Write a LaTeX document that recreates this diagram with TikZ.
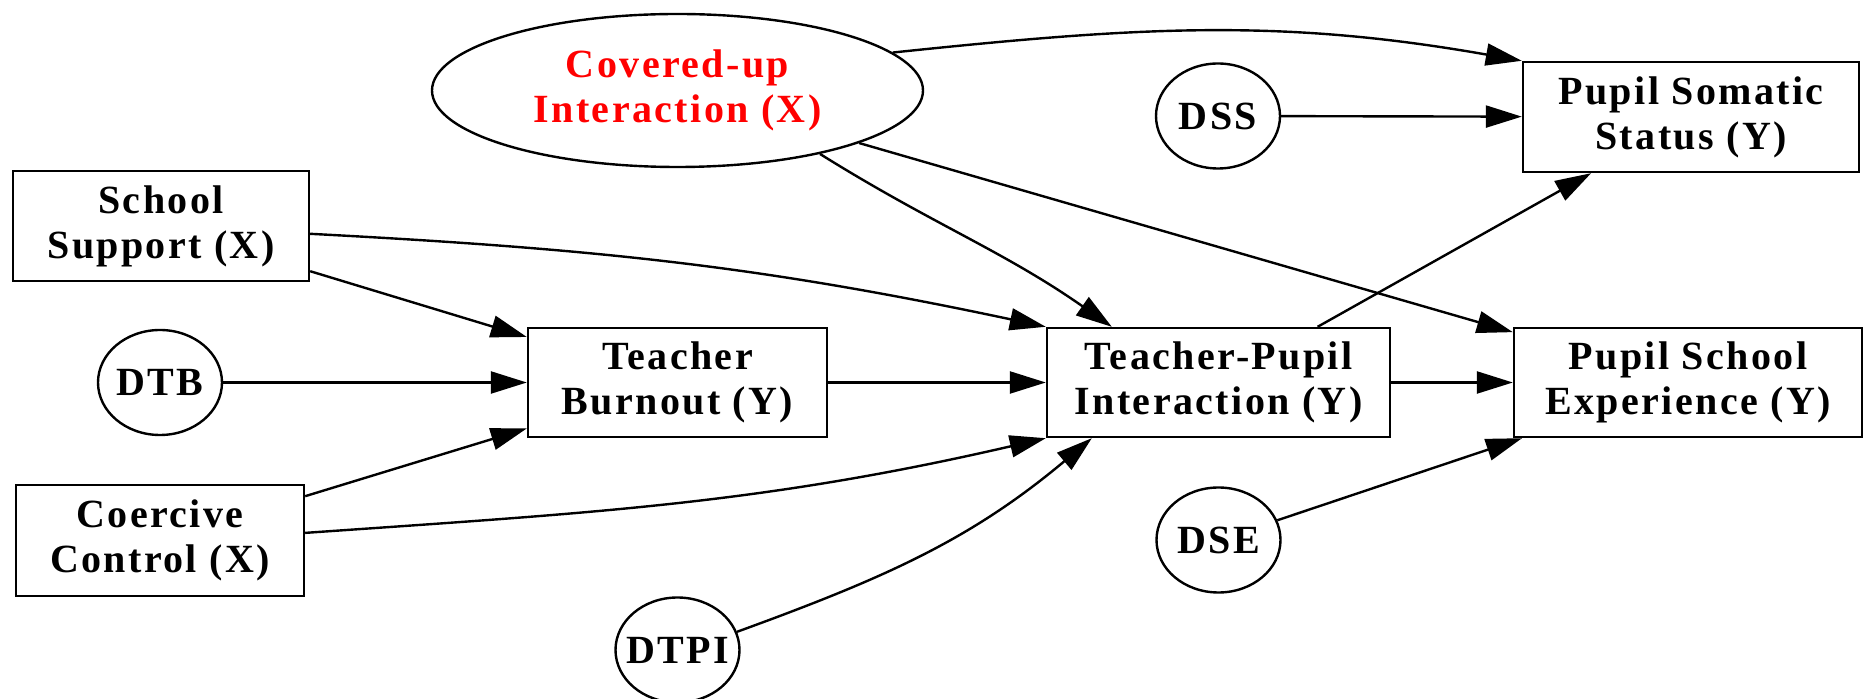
\documentclass[tikz,border=0pt]{standalone}
\usepackage{fontspec}
\newfontfamily\labelfont{Liberation Serif}[LetterSpace=6]
\usetikzlibrary{arrows.meta,shapes.geometric}

\begin{document}
\begin{tikzpicture}[x=0.5pt, y=-0.5pt,
  every node/.style={font=\labelfont\bfseries\fontsize{20}{22.5}\selectfont,
                     align=center, inner sep=0pt, line width=1.2pt},
  varbox/.style={draw, rectangle},
  errnode/.style={draw, ellipse, inner xsep=-6pt,
                  minimum width=62pt, minimum height=52.5pt},
  link/.style={line width=1.2pt, -{Triangle[length=18pt, width=11pt]}}
]
\useasboundingbox (0,0) rectangle (1864,699);

% exogenous variables
\node[draw, ellipse, minimum width=245.5pt, minimum height=76.5pt, text=red]
  (CI) at (677.5,90.5) {Covered-up\\Interaction (X)};
\node[varbox, minimum width=148pt, minimum height=55pt]
  (SS) at (161,226) {School\\Support (X)};
\node[varbox, minimum width=144pt, minimum height=55.5pt]
  (CC) at (160,540.5) {Coercive\\Control (X)};

% outcome variables
\node[varbox, minimum width=149.5pt, minimum height=54.5pt]
  (TB) at (677.5,382.5) {Teacher\\Burnout (Y)};
\node[varbox, minimum width=171.5pt, minimum height=54.5pt]
  (TPI) at (1218.5,382.5) {Teacher-Pupil\\Interaction (Y)};
\node[varbox, minimum width=168pt, minimum height=55pt]
  (PSS) at (1691,117) {Pupil Somatic\\Status (Y)};
\node[varbox, minimum width=174pt, minimum height=54.5pt]
  (PSE) at (1688,382.5) {Pupil School\\Experience (Y)};

% disturbance terms
\node[errnode] (DTB)  at (160,382.5)  {DTB};
\node[errnode] (DSS)  at (1218,116)   {DSS};
\node[errnode] (DSE)  at (1218.5,540) {DSE};
\node[errnode] (DTPI) at (677.5,650)  {DTPI};

% paths
\draw[link] (SS) -- (TB);
\draw[link] (DTB) -- (TB);
\draw[link] (CC) -- (TB);
\draw[link] (TB) -- (TPI);
\draw[link] (TPI) -- (PSE);
\draw[link] (DSS) -- (PSS);
\draw[link] (TPI) -- (PSS);
\draw[link] (DSE) -- (PSE);
\draw[link] (CI) -- (PSE);
\draw[link] (CI.-24) to[out=-32, in=145] ([xshift=33pt]TPI.north west);
\draw[link] (CI.10) to[out=6, in=170] (PSS.north west);
\draw[link] (SS.-3) to[out=-3, in=168] (TPI.north west);
\draw[link] (CC.3) to[out=4, in=-167] (TPI.south west);
\draw[link] (DTPI.17) to[out=20, in=-140] ([xshift=23pt]TPI.south west);
\end{tikzpicture}
\end{document}
